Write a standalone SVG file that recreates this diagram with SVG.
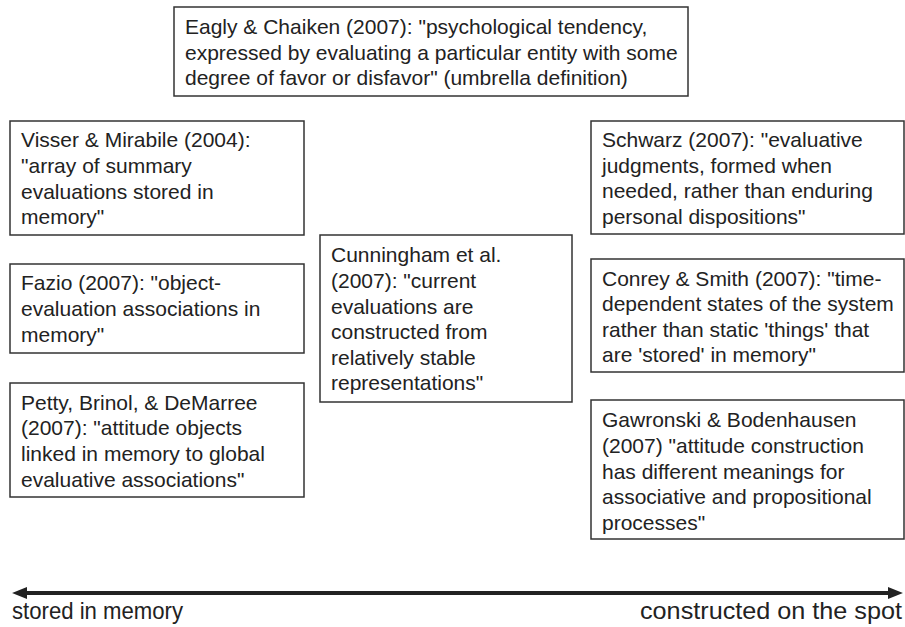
<svg xmlns="http://www.w3.org/2000/svg" width="905" height="627" viewBox="0 0 905 627">
<style>
.box{fill:#fff;stroke:#333;stroke-width:1.5}
.t{font-family:"Liberation Sans",Arial,sans-serif;font-size:21px;fill:#222}
.lbl{font-family:"Liberation Sans Narrow","Liberation Sans",Arial,sans-serif;font-size:24px;fill:#222}
</style>
<defs>
<marker id="ah" viewBox="0 0 10 8" refX="4.7" refY="4" markerWidth="3.75" markerHeight="3" orient="auto-start-reverse" markerUnits="strokeWidth">
<path d="M0,0 L10,4 L0,8 z" fill="#222"/>
</marker>
</defs>
<rect width="905" height="627" fill="#fff"/>
<g id="eagly">
<rect class="box" x="174" y="7" width="514" height="89"/>
<text class="t"><tspan x="185" y="34">Eagly &amp; Chaiken (2007): "psychological tendency,</tspan><tspan x="185" y="60">expressed by evaluating a particular entity with some</tspan><tspan x="185" y="85">degree of favor or disfavor" (umbrella definition)</tspan></text>
</g>
<g id="visser">
<rect class="box" x="10" y="121" width="294" height="114"/>
<text class="t"><tspan x="21" y="147">Visser &amp; Mirabile (2004):</tspan><tspan x="21" y="173">"array of summary</tspan><tspan x="21" y="199">evaluations stored in</tspan><tspan x="21" y="224">memory"</tspan></text>
</g>
<g id="fazio">
<rect class="box" x="10" y="264" width="294" height="89"/>
<text class="t"><tspan x="21" y="290">Fazio (2007): "object-</tspan><tspan x="21" y="316">evaluation associations in</tspan><tspan x="21" y="342">memory"</tspan></text>
</g>
<g id="petty">
<rect class="box" x="10" y="383" width="294" height="114"/>
<text class="t"><tspan x="21" y="410">Petty, Brinol, &amp; DeMarree</tspan><tspan x="21" y="435">(2007): "attitude objects</tspan><tspan x="21" y="461">linked in memory to global</tspan><tspan x="21" y="487">evaluative associations"</tspan></text>
</g>
<g id="cunningham">
<rect class="box" x="320" y="235" width="252" height="167"/>
<text class="t"><tspan x="331" y="262">Cunningham et al.</tspan><tspan x="331" y="288">(2007): "current</tspan><tspan x="331" y="314">evaluations are</tspan><tspan x="331" y="339">constructed from</tspan><tspan x="331" y="365">relatively stable</tspan><tspan x="331" y="390">representations"</tspan></text>
</g>
<g id="schwarz">
<rect class="box" x="591" y="121" width="313" height="113"/>
<text class="t"><tspan x="602" y="147">Schwarz (2007): "evaluative</tspan><tspan x="602" y="173">judgments, formed when</tspan><tspan x="602" y="198">needed, rather than enduring</tspan><tspan x="602" y="224">personal dispositions"</tspan></text>
</g>
<g id="conrey">
<rect class="box" x="591" y="259" width="313" height="113"/>
<text class="t"><tspan x="602" y="286">Conrey &amp; Smith (2007): "time-</tspan><tspan x="602" y="311">dependent states of the system</tspan><tspan x="602" y="337">rather than static 'things' that</tspan><tspan x="602" y="362">are 'stored' in memory"</tspan></text>
</g>
<g id="gawronski">
<rect class="box" x="591" y="400" width="313" height="139"/>
<text class="t"><tspan x="602" y="427">Gawronski &amp; Bodenhausen</tspan><tspan x="602" y="453">(2007) "attitude construction</tspan><tspan x="602" y="479">has different meanings for</tspan><tspan x="602" y="504">associative and propositional</tspan><tspan x="602" y="530">processes"</tspan></text>
</g>
<g id="connectors">
<line x1="20" y1="593" x2="895" y2="593" stroke="#222" stroke-width="4" marker-start="url(#ah)" marker-end="url(#ah)"/>
</g>
<g id="labels">
<text class="lbl" x="12" y="619" textLength="171" lengthAdjust="spacingAndGlyphs">stored in memory</text>
<text class="lbl" x="640" y="619" textLength="262" lengthAdjust="spacingAndGlyphs">constructed on the spot</text>
</g>
</svg>
